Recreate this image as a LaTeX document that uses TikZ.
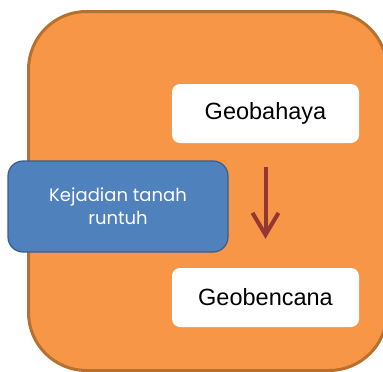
\documentclass[tikz,border=0pt]{standalone}
\usepackage{fontspec}
\setmainfont{Liberation Sans}
\newfontfamily\gothic{Poppins}
\usetikzlibrary{arrows.meta}
\definecolor{panelfill}{HTML}{F79646}
\definecolor{paneledge}{HTML}{B7712F}
\definecolor{boxblue}{HTML}{4F81BD}
\definecolor{boxblueedge}{HTML}{385D8A}
\definecolor{arrowred}{HTML}{943634}
\tikzset{
  termbox/.style={fill=white, rounded corners=8pt, minimum width=187pt, minimum height=59pt,
    inner sep=0pt, font=\fontsize{23.5pt}{28pt}\selectfont},
  eventbox/.style={fill=boxblue, draw=boxblueedge, line width=1.2pt, rounded corners=15pt,
    minimum width=220pt, minimum height=91pt, inner sep=0pt, text=white, align=center,
    font=\gothic\fontsize{18pt}{23pt}\selectfont},
  flowarrow/.style={draw=arrowred, line width=4pt,
    -{Straight Barb[length=22pt,width=26pt,line width=4pt]}}
}
\begin{document}
\begin{tikzpicture}[x=1pt,y=-1pt]
  \useasboundingbox (0,0) rectangle (383,372);
  \clip (0,0) rectangle (383,372);
  % orange panel
  \draw[fill=panelfill, draw=paneledge, line width=3pt, rounded corners=58pt]
    (28.5,11.5) rectangle (387,370.5);
  % terms
  \node[termbox] (bahaya) at (265.5,113.5) {Geobahaya};
  \node[termbox] (bencana) at (265.5,297.5) {Geobencana};
  % event
  \node[eventbox] (event) at (118,206.5) {Kejadian tanah\\runtuh};
  % relation
  \draw[flowarrow, shorten <=24pt, shorten >=29pt] (bahaya) -- (bencana);
\end{tikzpicture}
\end{document}
